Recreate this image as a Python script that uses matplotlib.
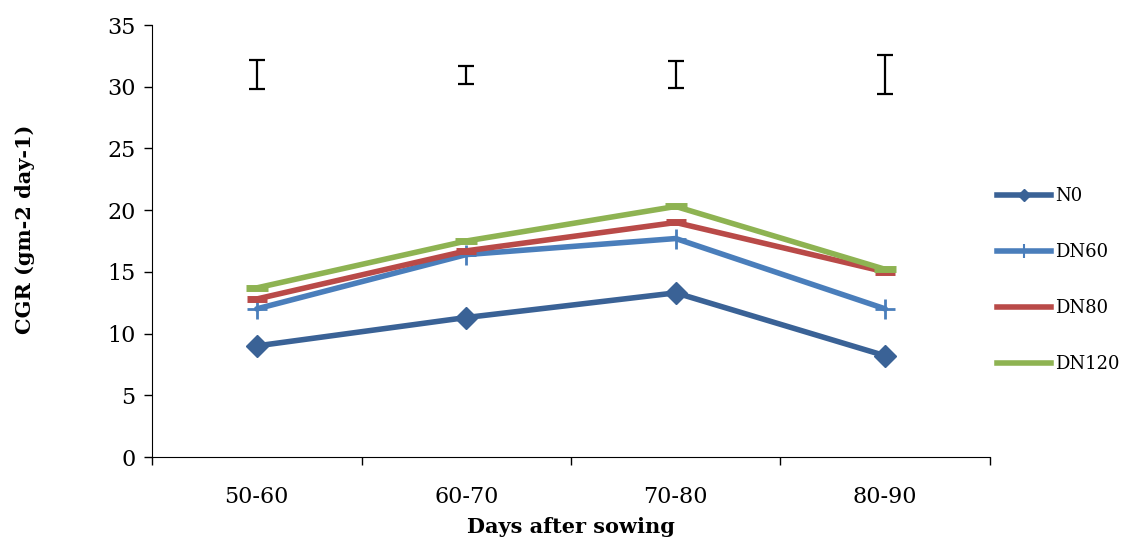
import matplotlib.pyplot as plt
from matplotlib.lines import Line2D

# ---------- DATA ----------
periods = ["50-60", "60-70", "70-80", "80-90"]
n0 = [9.0, 11.3, 13.3, 8.2]
dn60 = [12.0, 16.4, 17.7, 12.0]
dn80 = [12.8, 16.7, 19.0, 15.0]
dn120 = [13.7, 17.5, 20.3, 15.2]

# LSD bars drawn at the top of the plot
err_center = [31.0, 30.95, 31.0, 31.0]
err_half = [1.2, 0.7, 1.1, 1.6]

series = [
    ("N0", n0, "#3a6296", "D", 11),
    ("DN60", dn60, "#4a7ebb", "+", 14),
    ("DN80", dn80, "#b94a48", "_", 14),
    ("DN120", dn120, "#8eb352", "_", 16),
]

plt.rcParams["font.family"] = ["DejaVu Serif"]

fig = plt.figure(figsize=(11.21, 5.42), dpi=100)
ax = fig.add_axes([152 / 1121, 1 - 457 / 542, (990 - 152) / 1121, (457 - 25) / 542])

x = list(range(len(periods)))
for name, vals, col, mk, ms in series:
    ax.plot(x, vals, color=col, lw=4, marker=mk, markersize=ms,
            markeredgewidth=2 if mk == "+" else (5 if mk == "_" else 1),
            markeredgecolor=col, solid_capstyle="round", label=name)

ax.errorbar(x, err_center, yerr=err_half, fmt="none", ecolor="black",
            elinewidth=1.6, capsize=5.5, capthick=1.6)

ax.set_xlim(-0.5, len(periods) - 0.5)
ax.set_ylim(0, 35)
ax.set_yticks(range(0, 36, 5))
ax.set_xticks(x)
ax.set_xticklabels(periods)
ax.set_xticks([i - 0.5 for i in range(len(periods) + 1)], minor=True)
ax.tick_params(axis="x", which="major", length=0, labelsize=16, pad=21)
ax.tick_params(axis="x", which="minor", length=6, width=1, direction="out")
ax.tick_params(axis="y", length=6, width=1, direction="out", labelsize=16, pad=6)

for s in ["top", "right"]:
    ax.spines[s].set_visible(False)

ax.set_xlabel("Days after sowing", fontsize=15, fontweight="bold")
ax.xaxis.set_label_coords(0.5, -0.139)
ax.set_ylabel("CGR (gm-2 day-1)", fontsize=15, fontweight="bold")
ax.yaxis.set_label_coords(-0.140, 0.528)

handles = [
    Line2D([], [], color="#3a6296", lw=4, marker="D", markersize=6),
    Line2D([], [], color="#4a7ebb", lw=4, marker="|", markersize=10, markeredgewidth=1.5),
    Line2D([], [], color="#b94a48", lw=4),
    Line2D([], [], color="#8eb352", lw=4),
]
fig.legend(handles, [s[0] for s in series], loc="center left",
           bbox_to_anchor=(990 / 1121, 1 - 280 / 542), frameon=False,
           fontsize=13, labelspacing=2.1, handlelength=3.0, handletextpad=0.2,
           borderaxespad=0.2, borderpad=0.2)

fig.savefig("out.png", dpi=100)
